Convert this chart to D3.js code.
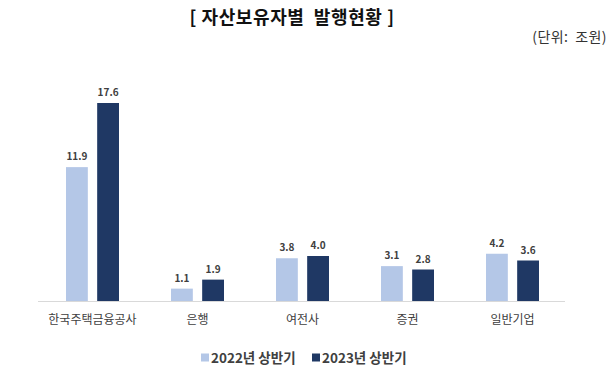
<!DOCTYPE html>
<meta charset="utf-8">
<style>
body { margin: 0; background: #fff; font-family: "Noto Sans CJK KR", "Noto Sans", sans-serif; }
.val { font-size: 10px; font-weight: bold; fill: #404040; text-anchor: middle; }
.cat { font-size: 12px; fill: #404040; text-anchor: middle; }
</style>
<body>
<div id="chart"></div>
<script src="https://d3js.org/d3.v7.min.js"></script>
<script>
// data
var categories = ["한국주택금융공사", "은행", "여전사", "증권", "일반기업"];
var seriesNames = ["2022년 상반기", "2023년 상반기"];
var values2022 = [11.9, 1.1, 3.8, 3.1, 4.2];
var values2023 = [17.6, 1.9, 4.0, 2.8, 3.6];
var colors = ["#b4c7e7", "#1f3864"];

var width = 616, height = 375;
var plot = {left: 40, right: 565, top: 103, bottom: 301};

var svg = d3.select("#chart").append("svg")
    .attr("width", width)
    .attr("height", height);

// title
svg.append("text")
    .attr("x", 292).attr("y", 24)
    .attr("text-anchor", "middle")
    .attr("xml:space", "preserve")
    .style("white-space", "pre")
    .style("font-size", "18px").style("font-weight", "bold").style("fill", "#111")
    .style("letter-spacing", "0.6px")
    .text("[ 자산보유자별  발행현황 ]");

svg.append("text")
    .attr("x", 607).attr("y", 42)
    .attr("text-anchor", "end")
    .style("white-space", "pre")
    .style("font-size", "14px").style("fill", "#333")
    .style("letter-spacing", "0.4px")
    .text("(단위:  조원)");

var x0 = d3.scaleBand().domain(categories).range([plot.left, plot.right]);
var x1 = d3.scaleBand().domain(seriesNames).range([x0.bandwidth() / 2 - 26.5, x0.bandwidth() / 2 + 26.5]).paddingInner(0.3);
var y = d3.scaleLinear().domain([0, 17.6]).range([plot.bottom, plot.top]);

var rows = categories.map(function(c, i) {
  return {cat: c, vals: [values2022[i], values2023[i]]};
});

var groups = svg.selectAll("g.grp")
    .data(rows)
  .enter().append("g")
    .attr("class", "grp")
    .attr("transform", function(d) { return "translate(" + x0(d.cat) + ",0)"; });

groups.selectAll("rect")
    .data(function(d) { return d.vals.map(function(v, j) { return {s: seriesNames[j], v: v, j: j}; }); })
  .enter().append("rect")
    .attr("x", function(d) { return x1(d.s); })
    .attr("width", x1.bandwidth())
    .attr("y", function(d) { return y(d.v); })
    .attr("height", function(d) { return y(0) - y(d.v); })
    .attr("fill", function(d) { return colors[d.j]; });

groups.selectAll("text.val")
    .data(function(d) { return d.vals.map(function(v, j) { return {s: seriesNames[j], v: v}; }); })
  .enter().append("text")
    .attr("class", "val")
    .attr("x", function(d) { return x1(d.s) + x1.bandwidth() / 2; })
    .attr("y", function(d) { return y(d.v) - 7; })
    .text(function(d) { return d.v.toFixed(1); });

// baseline
svg.append("line")
    .attr("x1", plot.left - 2).attr("x2", plot.right)
    .attr("y1", plot.bottom + 0.5).attr("y2", plot.bottom + 0.5)
    .attr("stroke", "#d9d9d9").attr("stroke-width", 1);

// category labels
svg.selectAll("text.cat")
    .data(categories)
  .enter().append("text")
    .attr("class", "cat")
    .attr("x", function(d) { return x0(d) + x0.bandwidth() / 2; })
    .attr("y", 324)
    .text(function(d) { return d; });

// legend
var legendX = [201, 312];
var legend = svg.selectAll("g.leg")
    .data(seriesNames)
  .enter().append("g")
    .attr("class", "leg")
    .attr("transform", function(d, i) { return "translate(" + legendX[i] + ",358)"; });
legend.append("rect")
    .attr("x", 0).attr("y", -4.5).attr("width", 8).attr("height", 8)
    .attr("fill", function(d, i) { return colors[i]; });
legend.append("text")
    .attr("x", 10).attr("y", 4.5)
    .style("font-size", "13.5px").style("font-weight", "bold").style("fill", "#404040")
    .text(function(d) { return d; });
</script>
</body>
